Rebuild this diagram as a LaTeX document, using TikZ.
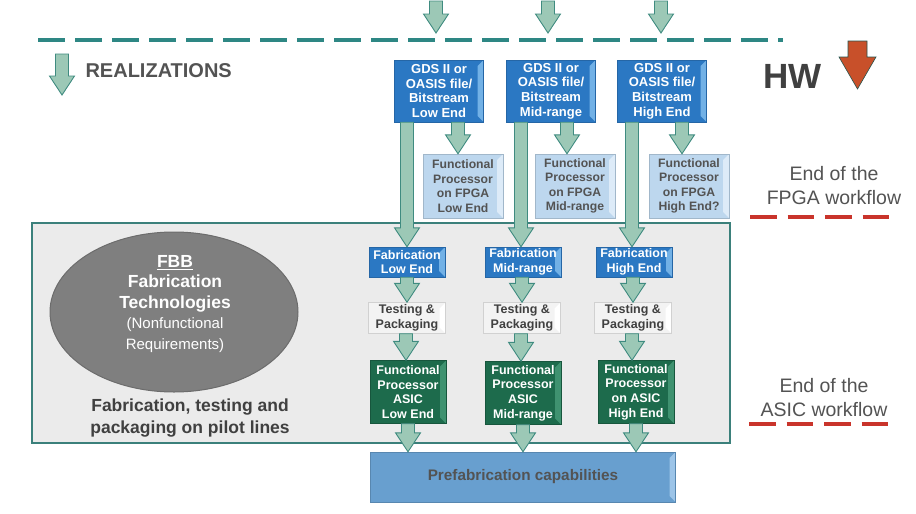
\documentclass[tikz,border=0pt]{standalone}
\usepackage{fontspec}
\setmainfont{Liberation Sans}
\usetikzlibrary{shapes.geometric,calc}

\definecolor{boxblue}{HTML}{2B78C3}
\definecolor{boxbluelight}{HTML}{72B1E6}
\definecolor{fpgablue}{HTML}{BDD7EE}
\definecolor{fpgalight}{HTML}{DDEBF8}
\definecolor{asicgreen}{HTML}{1D6B4C}
\definecolor{asiclight}{HTML}{3F9270}
\definecolor{testwhite}{HTML}{F3F3F3}
\definecolor{prefabblue}{HTML}{689FCF}
\definecolor{prefablight}{HTML}{9CC4E8}
\definecolor{arrowfill}{HTML}{9CC8B6}
\definecolor{arrowline}{HTML}{3F8B80}
\definecolor{dashteal}{HTML}{2E8784}
\definecolor{hwred}{HTML}{C8502A}
\definecolor{endred}{HTML}{C9342B}
\definecolor{textgray}{HTML}{404040}
\definecolor{panelgray}{HTML}{EBEBEB}
\definecolor{panelline}{HTML}{3B807B}
\definecolor{fbbgray}{HTML}{7F7F7F}

\tikzset{
  box/.style={rectangle, inner sep=0pt, align=center,
    font=\fontsize{12.5}{14.7}\selectfont\bfseries},
  bevel/.style={path picture={
    \fill[#1] ([xshift=-6pt,yshift=-6pt]path picture bounding box.north east)
      -- (path picture bounding box.north east)
      -- (path picture bounding box.south east)
      -- ([xshift=-6pt,yshift=6pt]path picture bounding box.south east) -- cycle;}},
  gdsbox/.style={box, fill=boxblue, draw=boxblue!85!black, text=white,
    minimum width=89pt, minimum height=62pt, bevel=boxbluelight,
    font=\fontsize{13}{14.7}\selectfont\bfseries},
  fpgabox/.style={box, fill=fpgablue, draw=fpgablue!85!black, text=textgray!90,
    minimum width=80pt, minimum height=64pt, bevel=fpgalight,
    font=\fontsize{12.2}{14.5}\selectfont\bfseries},
  fabbox/.style={box, fill=boxblue, draw=boxblue!85!black, text=white,
    minimum width=76pt, minimum height=30pt, bevel=boxbluelight},
  testbox/.style={box, fill=testwhite, draw=black!18, text=textgray,
    minimum width=77pt, minimum height=31pt, bevel=white},
  asicbox/.style={box, fill=asicgreen, draw=asicgreen!80!black, text=white,
    minimum width=76pt, minimum height=63pt, bevel=asiclight},
  blockarrow/.style={fill=arrowfill, draw=arrowline, line width=0.9pt, line join=miter},
  endtext/.style={align=center, text=textgray!90, font=\fontsize{19.5}{24}\selectfont},
  enddash/.style={endred, line width=3.3pt, dash pattern=on 26.5pt off 11pt}
}

% block arrow from #1 down to #2 (x taken from #2)
\newcommand{\flowarrow}[2]{%
  \filldraw[blockarrow] let \p1=(#1), \p2=(#2) in
    (\x2-6.5pt,\y1) -- (\x2-6.5pt,\y2+19pt) -- (\x2-12.5pt,\y2+19pt) -- (\x2,\y2)
    -- (\x2+12.5pt,\y2+19pt) -- (\x2+6.5pt,\y2+19pt) -- (\x2+6.5pt,\y1) -- cycle;}

\begin{document}
\begin{tikzpicture}[x=1pt,y=-1pt]
\useasboundingbox (0,0) rectangle (916,514);

% Pilot line panel
\draw[fill=panelgray, draw=panelline, line width=1.2pt] (32,223) rectangle (730,443);

% FBB ellipse
\node[ellipse, fill=fbbgray, draw=fbbgray!85!black, line width=1pt,
  minimum width=248pt, minimum height=160pt] (fbb) at (174,312) {};
\node[align=center, text=white, font=\fontsize{17.5}{20.5}\selectfont] (fbbtext) at (175,304)
  {\bfseries\underline{FBB}\\
   \bfseries Fabrication\\
   \bfseries Technologies\\
   \fontsize{15}{20}\selectfont(Nonfunctional\\
   \fontsize{15}{18}\selectfont Requirements)};
\node[align=center, text=textgray, font=\fontsize{17.5}{22}\selectfont\bfseries]
  (pilot) at (190,418) {Fabrication, testing and\\packaging on pilot lines};

% Realizations / HW
\draw[dashteal, line width=3.3pt, dash pattern=on 27pt off 10pt] (38,40) -- (783,40);
\coordinate (realTop) at (62,54);
\coordinate (realTip) at (62,95);
\flowarrow{realTop}{realTip}
\node[anchor=base west, text=textgray!90, font=\fontsize{20}{24}\selectfont\bfseries]
  (real) at (82,77) {REALIZATIONS};
\node[anchor=base west, text=textgray, font=\fontsize{35}{40}\selectfont\bfseries]
  (hw) at (760,88) {HW};
\filldraw[fill=hwred, draw=arrowline!60!black, line width=0.6pt]
  (848,41) -- (867,41) -- (867,57) -- (876,57) -- (857.5,89) -- (839,57) -- (848,57) -- cycle;

% Workflow ends
\node[endtext] (fpgaend) at (834,186) {End of the\\FPGA workflow};
\draw[enddash] (750,217) -- (890,217);
\node[endtext] (asicend) at (824,398) {End of the\\ASIC workflow};
\draw[enddash] (749,424) -- (889,424);

% Design files
\node[gdsbox] (gdsLow)  at (439,91) {GDS II or\\OASIS file/\\Bitstream\\Low End};
\node[gdsbox] (gdsMid)  at (551,91) {GDS II or\\OASIS file/\\Bitstream\\Mid-range};
\node[gdsbox] (gdsHigh) at (662,91) {GDS II or\\OASIS file/\\Bitstream\\High End};

% FPGA
\node[fpgabox] (fpgaLow)  at (463,186) {Functional\\Processor\\on FPGA\\Low End};
\node[fpgabox] (fpgaMid)  at (575,186) {Functional\\Processor\\on FPGA\\Mid-range};
\node[fpgabox] (fpgaHigh) at (689,186) {Functional\\Processor\\on FPGA\\High End?};

% Fabrication
\node[fabbox] (fabLow)  at (407,262) {Fabrication\\Low End};
\node[fabbox] (fabMid)  at (523,262) {Fabrication\\Mid-range};
\node[fabbox] (fabHigh) at (634,262) {Fabrication\\High End};

\node[testbox] (testLow)  at (407,318) {Testing \&\\Packaging};
\node[testbox] (testMid)  at (522,318) {Testing \&\\Packaging};
\node[testbox] (testHigh) at (633,318) {Testing \&\\Packaging};

\node[asicbox] (asicLow)  at (408,392) {Functional\\Processor\\ASIC\\Low End};
\node[asicbox] (asicMid)  at (523,393) {Functional\\Processor\\ASIC\\Mid-range};
\node[asicbox] (asicHigh) at (636,392) {Functional\\Processor\\on ASIC\\High End};

\node[box, fill=prefabblue, draw=prefabblue!85!black, bevel=prefablight,
  minimum width=305pt, minimum height=50pt, text=textgray!90,
  font=\fontsize{15.3}{18}\selectfont\bfseries] (prefab) at (523,477)
  {Prefabrication capabilities};

% Arrows
\coordinate (inLow)  at (436,1);  \coordinate (inLowEnd)  at (436,33);
\coordinate (inMid)  at (548,1);  \coordinate (inMidEnd)  at (548,33);
\coordinate (inHigh) at (661,1);  \coordinate (inHighEnd) at (661,33);
\flowarrow{inLow}{inLowEnd}
\flowarrow{inMid}{inMidEnd}
\flowarrow{inHigh}{inHighEnd}

\flowarrow{gdsLow.south}{[xshift=-5pt]fpgaLow.north}
\flowarrow{gdsMid.south}{[xshift=-8pt]fpgaMid.north}
\flowarrow{gdsHigh.south}{[xshift=-7pt]fpgaHigh.north}

\flowarrow{gdsLow.south}{fabLow.north}
\flowarrow{gdsMid.south}{[xshift=-2pt]fabMid.north}
\flowarrow{gdsHigh.south}{[xshift=-2pt]fabHigh.north}

\flowarrow{fabLow.south}{testLow.north}
\flowarrow{fabMid.south}{testMid.north}
\flowarrow{fabHigh.south}{testHigh.north}

\flowarrow{testLow.south}{[xshift=-2pt]asicLow.north}
\flowarrow{testMid.south}{[xshift=-2pt]asicMid.north}
\flowarrow{testHigh.south}{[xshift=-4pt]asicHigh.north}

\flowarrow{asicLow.south}{asicLow.south |- prefab.north}
\flowarrow{asicMid.south}{asicMid.south |- prefab.north}
\flowarrow{asicHigh.south}{asicHigh.south |- prefab.north}

\end{tikzpicture}
\end{document}
